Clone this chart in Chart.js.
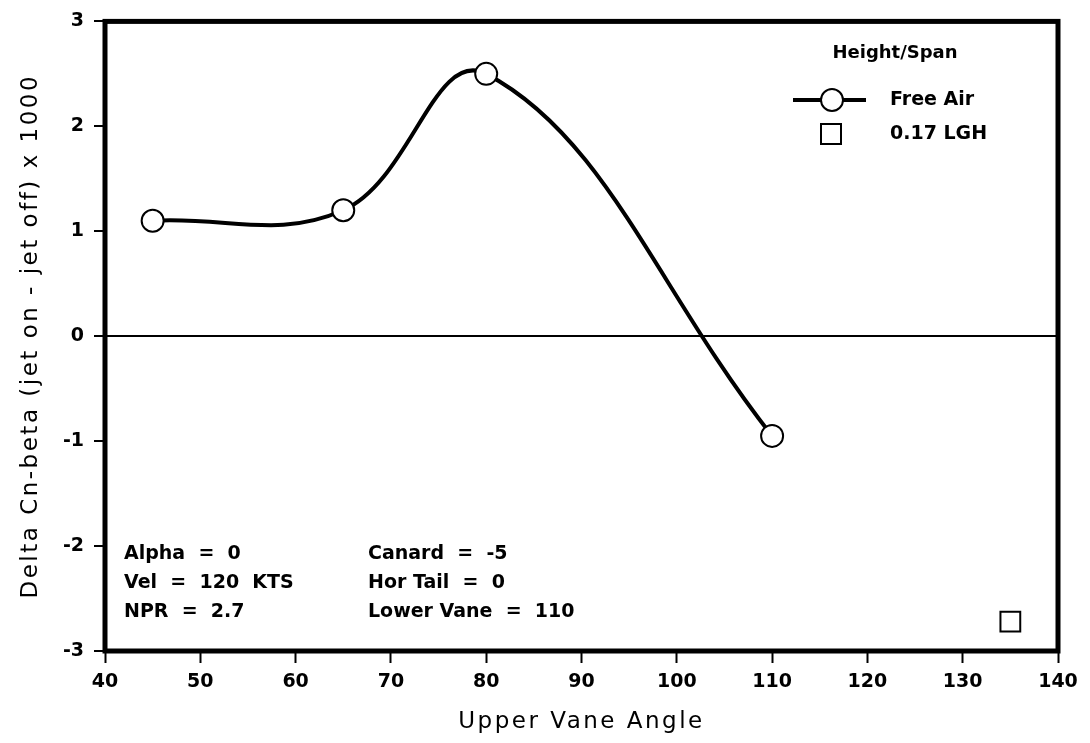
<!DOCTYPE html>
<html>
<head>
<meta charset="utf-8">
<script src="https://cdn.jsdelivr.net/npm/chart.js@4.4.1/dist/chart.umd.min.js"></script>
<style>
  html, body { margin: 0; padding: 0; background: #fff; }
  #wrap { width: 1090px; height: 743px; }
</style>
</head>
<body>
<div id="wrap"><canvas id="graf"></canvas></div>
<script>
// ---- DADOS ----
const upperVaneAngle = [45, 65, 80, 110];
const freeAir = [1.1, 1.2, 2.5, -0.95];
const lghAngle = [135];
const lgh017 = [-2.72];

const xTicks = [40, 50, 60, 70, 80, 90, 100, 110, 120, 130, 140];
const yTicks = [-3, -2, -1, 0, 1, 2, 3];

const notesLeft = ["Alpha  =  0", "Vel  =  120  KTS", "NPR  =  2.7"];
const notesRight = ["Canard  =  -5", "Hor Tail  =  0", "Lower Vane  =  110"];

const tickFont = { family: "DejaVu Sans", size: 19, weight: "bold" };
const titleFont = { family: "DejaVu Sans", size: 23 };

// titulos dos eixos mais espaçados (os labels dos ticks vão depois, com z: 1)
const spacing = {
  id: "spacing",
  beforeDraw(chart) { chart.ctx.letterSpacing = "2.5px"; },
  beforeDatasetsDraw(chart) { chart.ctx.letterSpacing = "0px"; }
};

// moldura, legenda e notas
const extras = {
  id: "extras",
  afterDraw(chart) {
    const ctx = chart.ctx;
    const a = chart.chartArea;
    ctx.save();
    ctx.letterSpacing = "0px";
    ctx.strokeStyle = "#000";
    ctx.lineWidth = 5;
    ctx.strokeRect(a.left, a.top, a.right - a.left, a.bottom - a.top);

    ctx.fillStyle = "#000";
    ctx.textBaseline = "middle";
    ctx.font = "bold 18px 'DejaVu Sans'";
    ctx.textAlign = "center";
    ctx.fillText("Height/Span", 895, 53);

    ctx.textAlign = "left";
    ctx.font = "bold 19px 'DejaVu Sans'";
    ctx.fillText("Free Air", 890, 100);
    ctx.fillText("0.17 LGH", 890, 134);

    ctx.lineWidth = 4;
    ctx.beginPath();
    ctx.moveTo(793, 100);
    ctx.lineTo(866, 100);
    ctx.stroke();
    ctx.lineWidth = 2;
    ctx.fillStyle = "#fff";
    ctx.beginPath();
    ctx.arc(832, 100, 11, 0, Math.PI * 2);
    ctx.fill();
    ctx.stroke();
    ctx.strokeRect(821, 124, 20, 20);

    ctx.fillStyle = "#000";
    notesLeft.forEach((t, i) => ctx.fillText(t, 124, 554 + i * 29));
    notesRight.forEach((t, i) => ctx.fillText(t, 368, 554 + i * 29));
    ctx.restore();
  }
};

const ctx = document.getElementById("graf").getContext("2d");

const chart = new Chart(ctx, {
  type: "scatter",
  data: {
    datasets: [{
      label: "Free Air",
      data: upperVaneAngle.map((x, i) => ({ x: x, y: freeAir[i] })),
      showLine: true,
      borderColor: "#000",
      borderWidth: 4,
      tension: 0.4,
      pointStyle: "circle",
      pointRadius: 11,
      pointBorderWidth: 2,
      pointBackgroundColor: "#fff",
      pointBorderColor: "#000"
    }, {
      label: "0.17 LGH",
      data: lghAngle.map((x, i) => ({ x: x, y: lgh017[i] })),
      showLine: false,
      pointStyle: "rect",
      pointRadius: 14,
      pointBorderWidth: 2,
      pointBackgroundColor: "#fff",
      pointBorderColor: "#000"
    }]
  },
  options: {
    responsive: true,
    maintainAspectRatio: false,
    animation: false,
    layout: { padding: { top: 17, right: 32, left: 0, bottom: 0 } },
    plugins: {
      legend: { display: false },
      tooltip: { enabled: false }
    },
    scales: {
      x: {
        type: "linear",
        min: 40,
        max: 140,
        afterBuildTicks: (s) => { s.ticks = xTicks.map(v => ({ value: v })); },
        afterFit: (s) => { s.height = 92; },
        border: { display: false },
        grid: {
          drawOnChartArea: false,
          tickLength: 12,
          tickColor: "#000",
          tickWidth: 2
        },
        ticks: { color: "#000", font: tickFont, padding: 8, maxRotation: 0, z: 1 },
        title: {
          display: true,
          text: "Upper Vane Angle",
          color: "#000",
          font: titleFont,
          padding: { top: 0, bottom: 7 }
        }
      },
      y: {
        type: "linear",
        min: -3,
        max: 3,
        afterBuildTicks: (s) => { s.ticks = yTicks.map(v => ({ value: v })); },
        afterFit: (s) => { s.width = 105; },
        border: { display: false },
        grid: {
          color: (c) => (c.tick && c.tick.value === 0 ? "#000" : "rgba(0,0,0,0)"),
          lineWidth: 2,
          tickLength: 11,
          tickColor: "#000",
          tickWidth: 2
        },
        ticks: { color: "#000", font: tickFont, padding: 10, z: 1 },
        title: {
          display: true,
          text: "Delta Cn-beta (jet on - jet off) x 1000",
          color: "#000",
          font: titleFont,
          padding: { top: 17, bottom: 0 }
        }
      }
    }
  },
  plugins: [spacing, extras]
});
</script>
</body>
</html>
